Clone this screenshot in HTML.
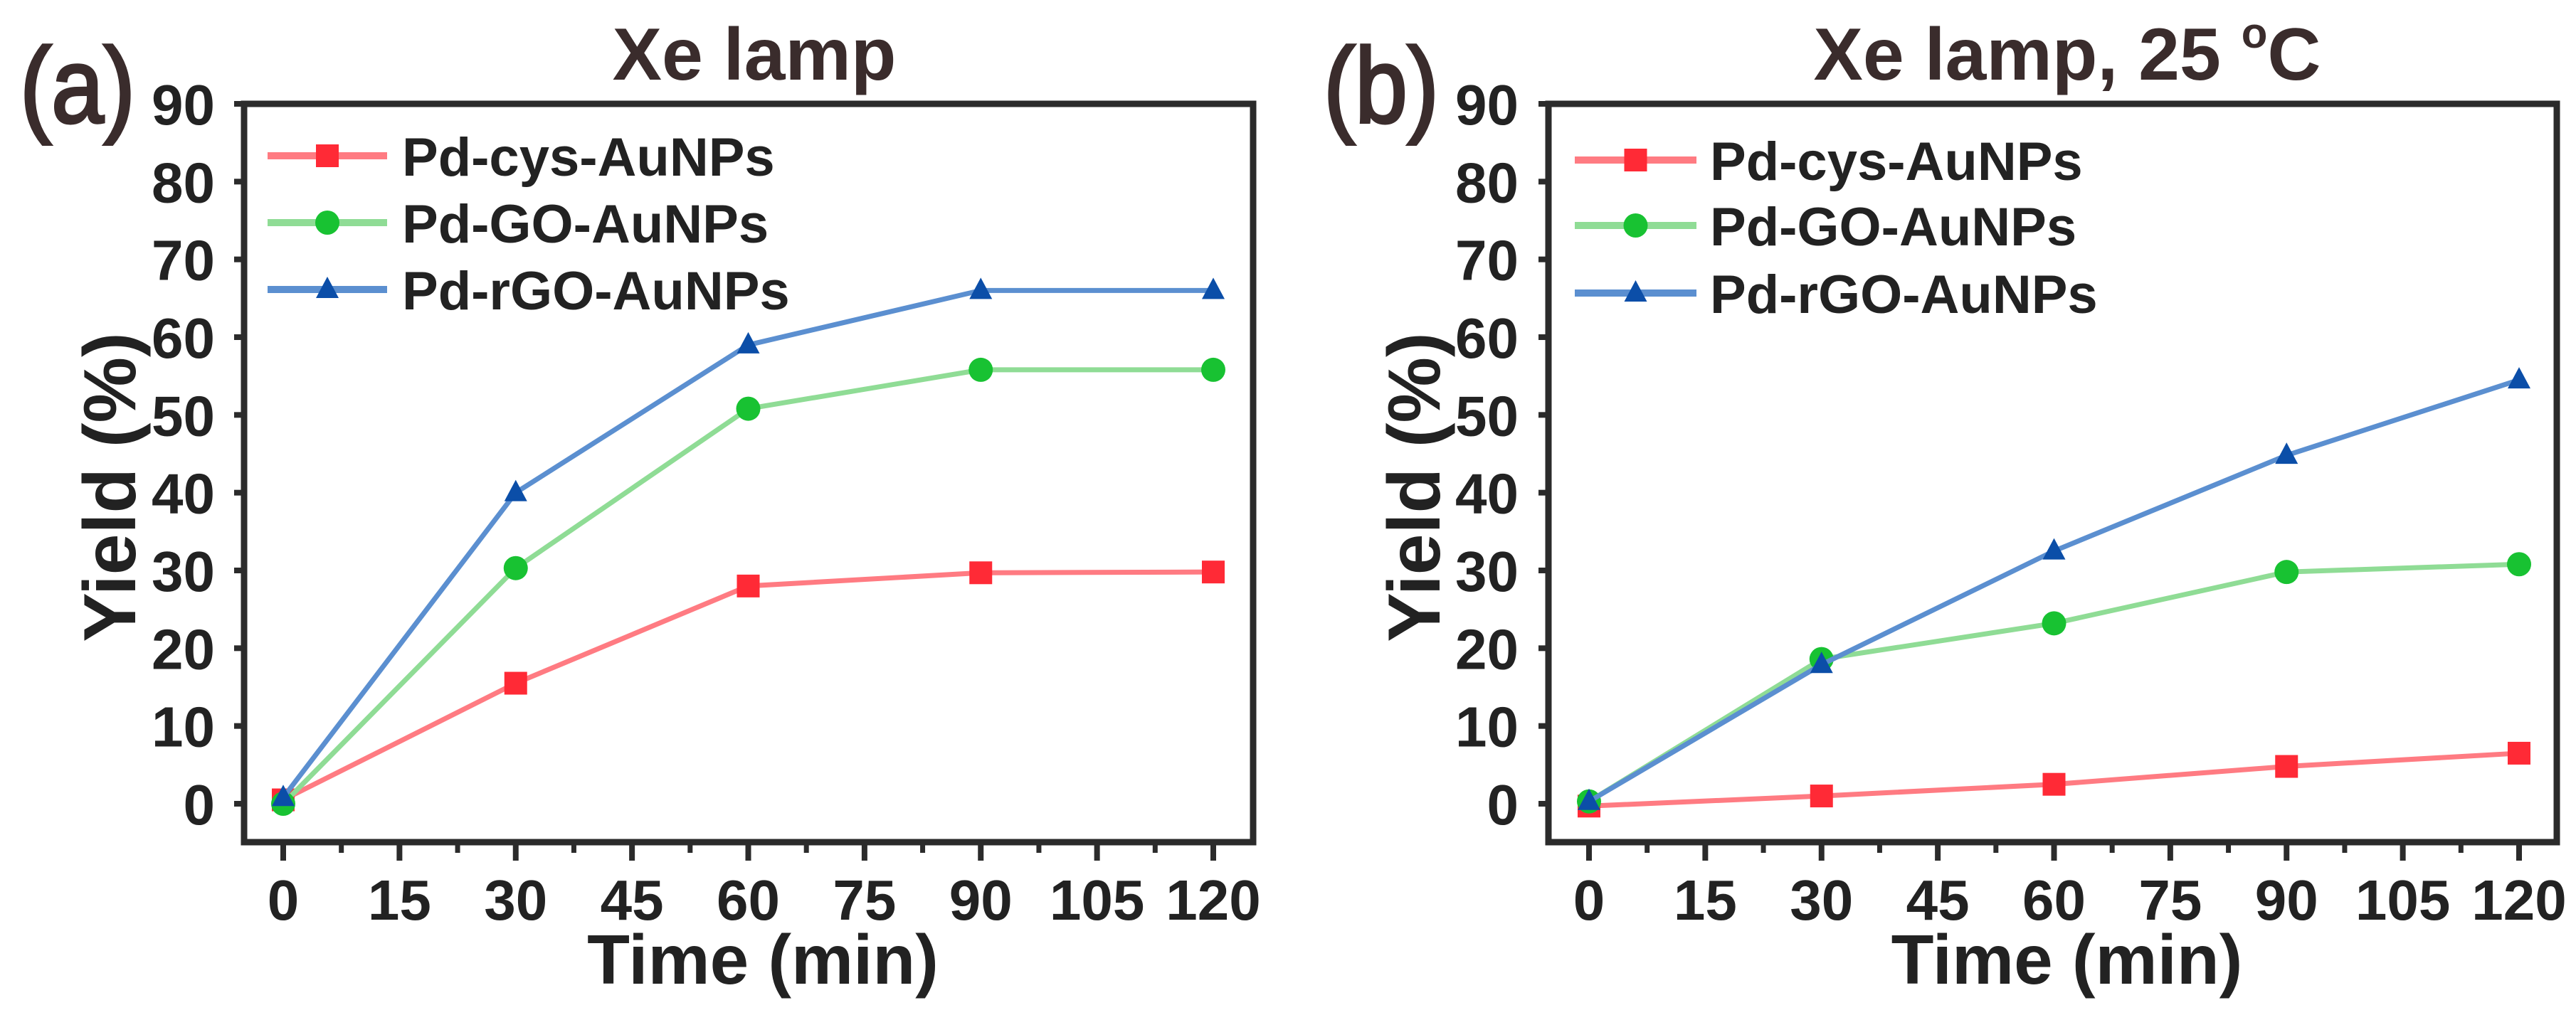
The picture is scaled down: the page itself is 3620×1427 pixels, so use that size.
<!DOCTYPE html>
<html><head><meta charset="utf-8"><style>
html,body{margin:0;padding:0;background:#fff}
svg{display:block}
text{font-family:"Liberation Sans",Arial,sans-serif;font-weight:bold}
</style></head><body>
<svg id="fig" width="3620" height="1427" viewBox="0 0 3620 1427" xmlns="http://www.w3.org/2000/svg"></svg>
<script>
const times = [0, 30, 60, 90, 120];
const xTicks = [0, 15, 30, 45, 60, 75, 90, 105, 120];
const yTicks = [0, 10, 20, 30, 40, 50, 60, 70, 80, 90];
const seriesNames = ["Pd-cys-AuNPs", "Pd-GO-AuNPs", "Pd-rGO-AuNPs"];
const aCys = [0.5, 15.5, 28, 29.7, 29.8];
const aGO = [0, 30.3, 50.8, 55.8, 55.8];
const aRGO = [0.8, 40, 59, 66, 66];
const bCys = [-0.3, 1, 2.5, 4.8, 6.5];
const bGO = [0.3, 18.6, 23.2, 29.8, 30.8];
const bRGO = [0.3, 17.9, 32.5, 44.8, 54.5];

const NS = "http://www.w3.org/2000/svg";
const svg = document.getElementById('fig');
function mk(tag, attrs, parent, txt){
  const e = document.createElementNS(NS, tag);
  for (const k in attrs) e.setAttribute(k, attrs[k]);
  if (txt !== undefined) e.textContent = txt;
  (parent||svg).appendChild(e);
  return e;
}
const styles = [
  {line:"#ff7b82", mark:"#ff2a36", shape:"square"},
  {line:"#8fdc95", mark:"#18c232", shape:"circle"},
  {line:"#5b8fd0", mark:"#0b4ea8", shape:"triangle"}
];
function marker(g, shape, cx, cy, col){
  let m;
  if (shape==="square") m = mk('rect',{x:cx-16,y:cy-16,width:32,height:32,fill:col},g);
  else if (shape==="circle") m = mk('circle',{cx:cx,cy:cy,r:17,fill:col},g);
  else m = mk('polygon',{points:`${cx},${cy-18} ${cx+16},${cy+12} ${cx-16},${cy+12}`,fill:col},g);
  return m;
}
function panel(cfg){
  const g = mk('g',{});
  
  
  const X = v => cfg.x0 + (v-0)/120*(cfg.x120-cfg.x0);
  const Y = v => 1130 - v/90*(1130-146);
  const fr = mk('rect',{x:cfg.fl,y:146,width:cfg.fr-cfg.fl,height:1184-146,fill:"none",stroke:"#2b2b2b","stroke-width":9},g);
  
  
  yTicks.forEach(v=>{
    const t = mk('line',{x1:cfg.fl-14,x2:cfg.fl,y1:Y(v),y2:Y(v),stroke:"#2b2b2b","stroke-width":8},g);
    
    
    const l = mk('text',{x:cfg.ylab,y:Y(v)+29,"font-size":80,"text-anchor":"end",fill:"#222"},g,String(v));
    
    
  });
  xTicks.forEach((v,i)=>{
    const t = mk('line',{x1:X(v),x2:X(v),y1:1184,y2:1210,stroke:"#2b2b2b","stroke-width":8},g);
    
    
    if (i<xTicks.length-1){
      const mv=(v+xTicks[i+1])/2;
      const m = mk('line',{x1:X(mv),x2:X(mv),y1:1184,y2:1199,stroke:"#2b2b2b","stroke-width":7},g);
      
      
    }
    const l = mk('text',{x:X(v),y:1293,"font-size":80,"text-anchor":"middle",fill:"#222"},g,String(v));
    
    
  });
  const xt = mk('text',{x:(cfg.fl+cfg.fr)/2+20,y:1383,"font-size":98,"text-anchor":"middle",fill:"#222"},g,"Time (min)");
  
  
  const yt = mk('text',{x:0,y:0,"font-size":104,"text-anchor":"middle",fill:"#222",transform:`translate(${cfg.ytx},685) rotate(-90)`},g,"Yield (%)");
  
  
  const pl = mk('text',{x:cfg.plx,y:172,"font-size":150,style:"font-weight:normal",fill:"#3a2c2c",stroke:"#3a2c2c","stroke-width":4,textLength:162,lengthAdjust:"spacingAndGlyphs"},g,cfg.label);
  
  
  const tt = mk('text',{x:cfg.tx,y:112,"font-size":104,"text-anchor":"middle",fill:"#3a2c2c"},g);
  
  
  if (cfg.deg){
    mk('tspan',{},tt,"Xe lamp, 25 ");
    mk('tspan',{"font-size":60,dy:-45},tt,"o");
    mk('tspan',{dy:45},tt,"C");
  } else tt.textContent = "Xe lamp";
  cfg.series.forEach((vals,si)=>{
    const st = styles[si];
    const sg = mk('g',{},g);
    
    
    const pts = vals.map((v,i)=>X(times[i])+","+Y(v)).join(" ");
    const pl2 = mk('polyline',{points:pts,fill:"none",stroke:st.line,"stroke-width":7},sg);
    
    
    vals.forEach((v,i)=>{
      const m = marker(sg, st.shape, X(times[i]), Y(v), st.mark);
      
      
    });
    const lg = mk('g',{},g);
    
    
    const ly = cfg.ly[si];
    mk('line',{x1:cfg.lx1,x2:cfg.lx2,y1:ly,y2:ly,stroke:st.line,"stroke-width":10},lg);
    marker(lg, st.shape, (cfg.lx1+cfg.lx2)/2, ly, st.mark);
    mk('text',{x:cfg.ltx,y:ly+28,"font-size":76,fill:"#222"},lg,seriesNames[si]);
  });
}
panel({id:"panel-a",label:"(a)",x0:398,x120:1705,fl:343,fr:1761,ylab:302,ytx:190,plx:28,tx:1060,deg:false,
  series:[aCys,aGO,aRGO],ly:[219,313,407],lx1:376,lx2:544,ltx:565});
panel({id:"panel-b",label:"(b)",x0:2233,x120:3540,fl:2176,fr:3593,ylab:2134,ytx:2023,plx:1860,tx:2905,deg:true,
  series:[bCys,bGO,bRGO],ly:[225,317,412],lx1:2213,lx2:2384,ltx:2403});
</script>
</body></html>
